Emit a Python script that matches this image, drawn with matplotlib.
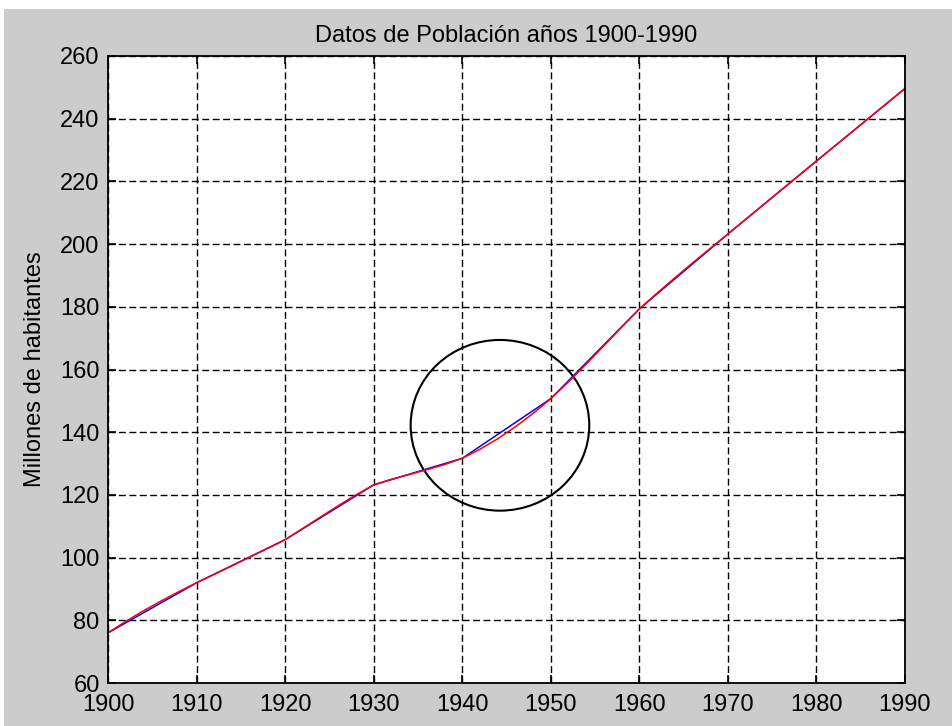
import matplotlib.pyplot as plt
from matplotlib.patches import Ellipse, Rectangle

# census data, one value per decade (millions)
years = [1900, 1910, 1920, 1930, 1940, 1950, 1960, 1970, 1980, 1990]
pop = [75.995, 91.972, 105.711, 123.203, 131.669,
       150.697, 179.323, 203.212, 226.505, 249.633]

# smooth curve, read every two years
years_s = list(range(1900, 1991, 2))
pop_s = [75.995, 79.64, 83.03, 86.17, 89.14,
         91.972, 94.67, 97.38, 100.12, 102.90,
         105.711, 109.31, 112.96, 116.56, 120.00,
         123.203, 124.95, 126.49, 128.02, 129.69,
         131.669, 134.55, 137.90, 141.71, 145.98,
         150.697, 156.05, 161.73, 167.57, 173.49,
         179.323, 184.36, 189.23, 193.98, 198.62,
         203.212, 207.87, 212.53, 217.19, 221.85,
         226.505, 231.13, 235.76, 240.38, 245.01,
         249.633]

xticks = list(range(1900, 1991, 10))
yticks = list(range(60, 261, 20))

plt.rcParams['font.family'] = ['Liberation Sans', 'DejaVu Sans']
plt.rcParams['font.size'] = 17

fig = plt.figure(figsize=(9.52, 7.26), dpi=100, facecolor='white')
fig.patches.append(Rectangle((4 / 952, 0), 1, 717 / 726, transform=fig.transFigure,
                             facecolor='#cccccc', edgecolor='none', zorder=-10))
ax = fig.add_axes([108 / 952, 43 / 726, 797 / 952, 627 / 726])

ax.plot(years, pop, color='blue', lw=1.1)
ax.plot(years_s, pop_s, color='red', lw=1.1)

# highlight the 1940s
ax.add_patch(Ellipse((1944.26, 142.2), 20.17, 54.45, fill=False,
                     edgecolor='black', lw=1.5))

ax.set_xlim(1900, 1990)
ax.set_ylim(60, 260)
ax.set_xticks(xticks)
ax.set_yticks(yticks)
ax.grid(True, color='black', linestyle=(0, (5, 2.5)), lw=1.0)
ax.tick_params(direction='in', top=True, right=True, length=6, width=1.2,
               labelsize=17, colors='black')
ax.tick_params(axis='x', pad=8)
ax.tick_params(axis='y', pad=6)
for s in ax.spines.values():
    s.set_linewidth(1.3)

ax.set_title('Datos de Población años 1900-1990', fontsize=17, pad=10)
ax.set_ylabel('Millones de habitantes', fontsize=17, labelpad=10)

fig.savefig('out.png', dpi=100, facecolor=fig.get_facecolor())
